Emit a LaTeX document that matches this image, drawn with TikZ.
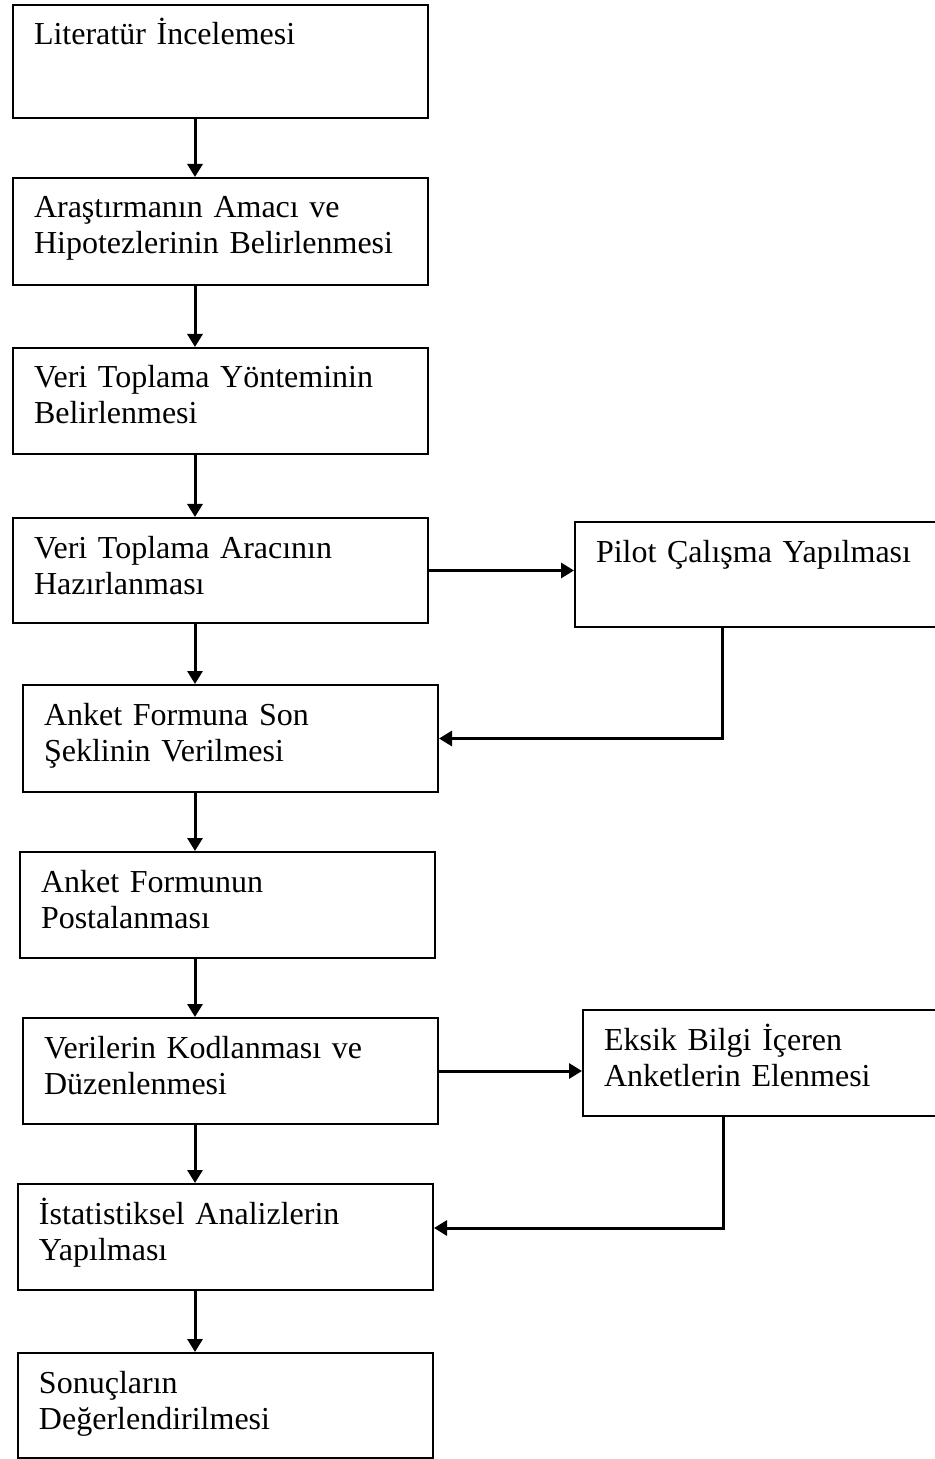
\documentclass[tikz,border=0pt]{standalone}
\usepackage{fontspec}
\setmainfont{Liberation Serif}
\usetikzlibrary{arrows.meta}

\begin{document}
\begin{tikzpicture}[x=0.5pt, y=-0.5pt]
  \tikzset{
    step_box/.style={rectangle, draw, line width=1pt, anchor=north west, text width=186.5pt, align=left, inner xsep=10.5pt, inner ysep=0pt, text height=20pt, text depth=33pt, font=\fontsize{16pt}{18pt}\selectfont},
    side_box/.style={step_box, text width=164pt},
    flow_arrow/.style={line width=1.5pt, -{Triangle[width=7.5pt, length=6.5pt]}}
  }

  % Marco de la figura
  \useasboundingbox (0,0) rectangle (934,1459);

  % Columnas de las flechas
  \coordinate (spine) at (195,0);
  \coordinate (pilot_col) at (722,0);
  \coordinate (eksik_col) at (723,0);

  % Pasos principales
  \node[step_box, text depth=36.5pt] (literatur) at (12,4) {Literatür İncelemesi};
  \node[step_box, text depth=33.5pt] (amac) at (12,177) {Araştırmanın Amacı ve\\Hipotezlerinin Belirlenmesi};
  \node[step_box] (yontem) at (12,347) {Veri Toplama Yönteminin\\Belirlenmesi};
  \node[step_box, text depth=32.5pt] (arac) at (12,517) {Veri Toplama Aracının\\Hazırlanması};
  \node[step_box, text depth=33.5pt] (son_sekil) at (22,684) {Anket Formuna Son\\Şeklinin Verilmesi};
  \node[step_box] (posta) at (19,851) {Anket Formunun\\Postalanması};
  \node[step_box] (kodlama) at (22,1017) {Verilerin Kodlanması ve\\Düzenlenmesi};
  \node[step_box] (analiz) at (17,1183) {İstatistiksel Analizlerin\\Yapılması};
  \node[step_box, text depth=32.5pt] (sonuc) at (17,1352) {Sonuçların\\Değerlendirilmesi};

  % Pasos laterales
  \node[side_box, text depth=32.5pt] (pilot) at (574,521) {Pilot Çalışma Yapılması};
  \node[side_box] (eksik) at (582,1009) {Eksik Bilgi İçeren\\Anketlerin Elenmesi};

  % Flechas de la columna principal
  \draw[flow_arrow] (literatur.south -| spine) -- (amac.north -| spine);
  \draw[flow_arrow] (amac.south -| spine) -- (yontem.north -| spine);
  \draw[flow_arrow] (yontem.south -| spine) -- (arac.north -| spine);
  \draw[flow_arrow] (arac.south -| spine) -- (son_sekil.north -| spine);
  \draw[flow_arrow] (son_sekil.south -| spine) -- (posta.north -| spine);
  \draw[flow_arrow] (posta.south -| spine) -- (kodlama.north -| spine);
  \draw[flow_arrow] (kodlama.south -| spine) -- (analiz.north -| spine);
  \draw[flow_arrow] (analiz.south -| spine) -- (sonuc.north -| spine);

  % Ida y vuelta de los pasos laterales
  \draw[flow_arrow] (arac.east) -- (arac.east -| pilot.west);
  \draw[flow_arrow] (pilot.south -| pilot_col) |- (son_sekil.east);
  \draw[flow_arrow] (kodlama.east) -- (kodlama.east -| eksik.west);
  \draw[flow_arrow] (eksik.south -| eksik_col) |- ([yshift=4.5pt]analiz.east);
\end{tikzpicture}
\end{document}
